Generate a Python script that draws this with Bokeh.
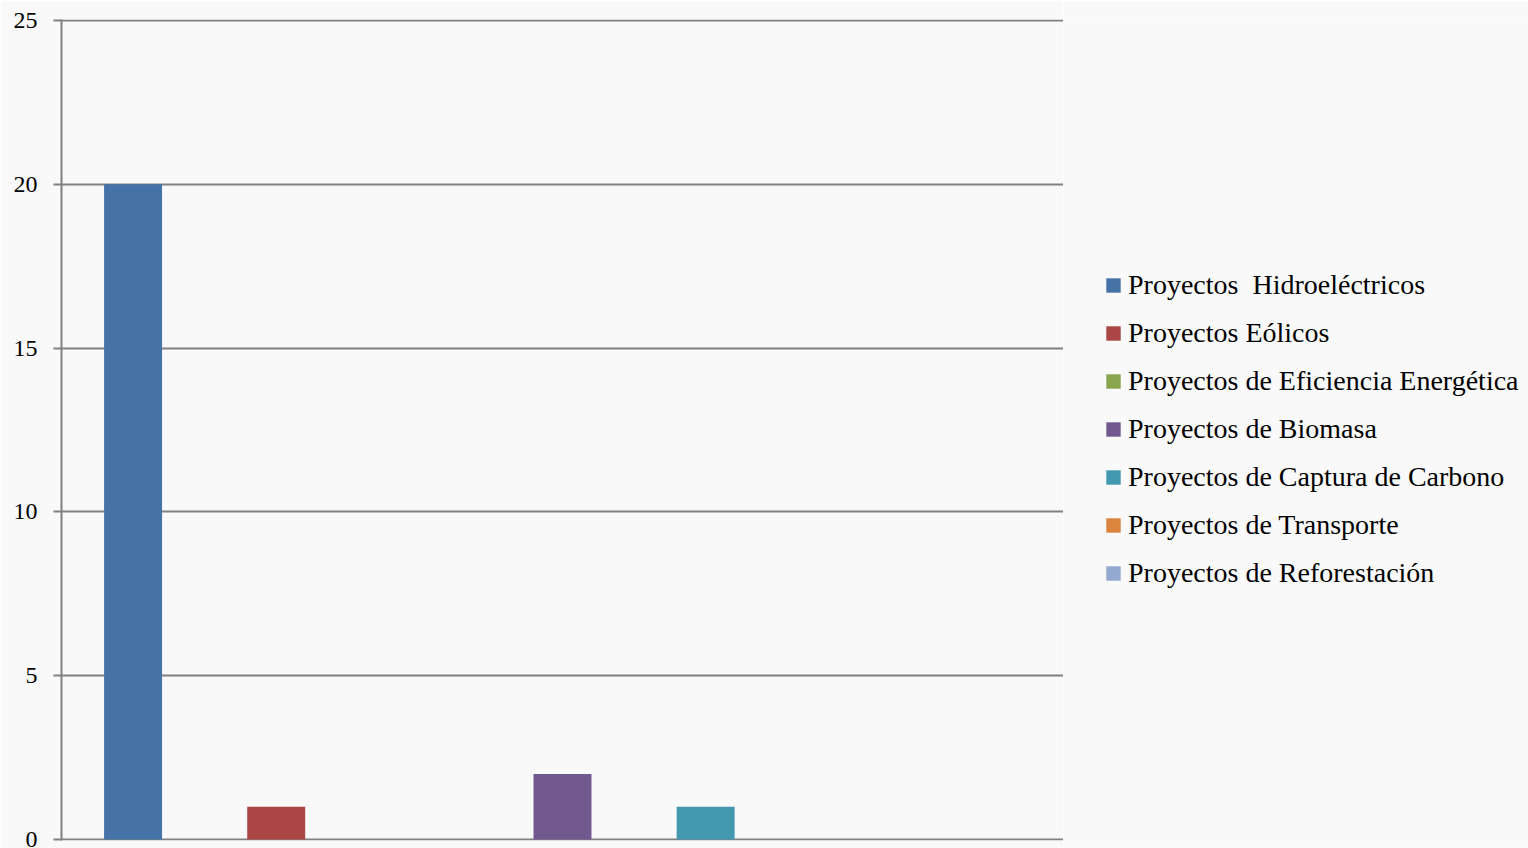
from bokeh.plotting import figure
from bokeh.layouts import row
from bokeh.models import Legend, LegendItem, FixedTicker, Range1d
from bokeh.embed import file_html
from bokeh.resources import INLINE

categories = [
    "Proyectos  Hidroeléctricos",
    "Proyectos Eólicos",
    "Proyectos de Eficiencia Energética",
    "Proyectos de Biomasa",
    "Proyectos de Captura de Carbono",
    "Proyectos de Transporte",
    "Proyectos de Reforestación",
]
values = [20, 1, 0, 2, 1, 0, 0]
colors = ["#4572A7", "#AA4643", "#89A54E", "#71588F", "#4198AF", "#DB843D", "#93A9CF"]
y_ticks = [0, 5, 10, 15, 20, 25]

BG = "#f9f9f9"
GRID = "#808080"
FONT = "Liberation Serif"

p = figure(
    width=1063, height=848,
    x_range=categories, y_range=Range1d(-0.03, 25.03),
    output_backend="svg", toolbar_location=None,
    background_fill_color=BG, border_fill_color=BG,
    min_border_left=61, min_border_top=19, min_border_bottom=8, min_border_right=0,
)
p.outline_line_color = None

for name, v, c in zip(categories, values, colors):
    p.vbar(x=[name], top=[v], width=0.405, fill_color=c, line_color=None)

p.xaxis.visible = False
p.xgrid.visible = False

p.yaxis.ticker = FixedTicker(ticks=y_ticks)
p.yaxis.axis_line_color = GRID
p.yaxis.axis_line_width = 2
p.yaxis.major_tick_line_color = GRID
p.yaxis.major_tick_line_width = 2
p.yaxis.major_tick_out = 8
p.yaxis.major_tick_in = 0
p.yaxis.minor_tick_line_color = None
p.yaxis.major_label_text_font = FONT
p.yaxis.major_label_text_font_size = "24px"
p.yaxis.major_label_text_color = "#000000"
p.yaxis.major_label_standoff = 16

p.ygrid.grid_line_color = GRID
p.ygrid.grid_line_width = 2

# legend panel: hidden renderers that only supply the legend swatches
lg = figure(
    width=465, height=848,
    x_range=categories, y_range=Range1d(1000, 1001),
    x_axis_type=None, y_axis_type=None,
    output_backend="svg", toolbar_location=None,
    background_fill_color=BG, border_fill_color=BG,
    min_border_left=0, min_border_top=0, min_border_bottom=0, min_border_right=0,
)
lg.outline_line_color = None
lg.xgrid.visible = False
lg.ygrid.visible = False

items = []
for name, v, c in zip(categories, values, colors):
    r = lg.vbar(x=[name], top=[v], width=0.4, fill_color=c, line_color=None)
    r.visible = False
    items.append(LegendItem(label=name, renderers=[r]))

legend = Legend(
    items=items, location=(41, 243),
    glyph_width=18, glyph_height=18,
    label_text_font=FONT, label_text_font_size="28px", label_text_color="#000000",
    label_standoff=6, label_height=48, spacing=0,
    margin=0, padding=0,
    background_fill_alpha=0, border_line_color=None,
)
lg.add_layout(legend, "center")

layout = row(p, lg, spacing=0)
open("out.html", "w").write(file_html(layout, INLINE))
